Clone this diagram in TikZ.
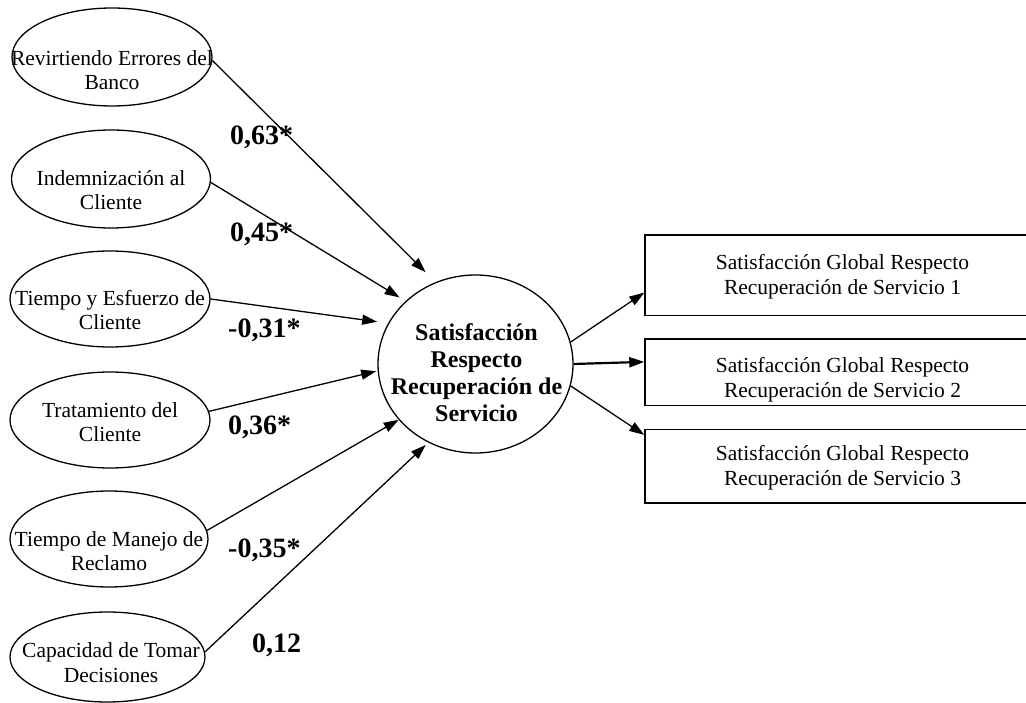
\documentclass[tikz,border=0pt]{standalone}
\usepackage{fontspec}
\setmainfont{Liberation Serif}
\usetikzlibrary{arrows.meta,shapes.geometric}
\begin{document}
\begin{tikzpicture}[x=1pt,y=-1pt,
  lat/.style={draw, ellipse, line width=1.3pt, inner sep=0pt},
  ltxt/.style={align=center, inner sep=0pt, font=\fontsize{21.5}{24.5}\selectfont},
  ctxt/.style={align=center, inner sep=0pt, font=\bfseries\fontsize{24}{27}\selectfont},
  obs/.style={draw, rectangle, line width=1.4pt, inner sep=0pt, minimum width=395pt},
  btxt/.style={align=center, inner sep=0pt, font=\fontsize{21.5}{25}\selectfont},
  coef/.style={anchor=base west, inner sep=0pt, font=\bfseries\fontsize{28}{30}\selectfont},
  arr/.style={line width=1.3pt, -{Triangle[length=15pt,width=10pt]}}]
\useasboundingbox (0,0) rectangle (1026,703);
\fill[white] (0,0) rectangle (1026,703);
\clip (0,0) rectangle (1026,703);

% latent exogenous ellipses
\node[lat, minimum width=200pt, minimum height=98pt] (e1) at (112,57) {};
\node[lat, minimum width=199pt, minimum height=98pt] (e2) at (111,179) {};
\node[lat, minimum width=200pt, minimum height=96pt] (e3) at (110,299) {};
\node[lat, minimum width=200pt, minimum height=96pt] (e4) at (110,420) {};
\node[lat, minimum width=198pt, minimum height=96pt] (e5) at (109,539) {};
\node[lat, minimum width=195pt, minimum height=90pt] (e6) at (107.5,657) {};

\node[ltxt] (t1) at (112,70.3) {Revirtiendo Errores del\\Banco};
\node[ltxt] (t2) at (111,190.3) {Indemnización al\\Cliente};
\node[ltxt] (t3) at (110,309.8) {Tiempo y Esfuerzo de\\Cliente};
\node[ltxt] (t4) at (110,422.3) {Tratamiento del\\Cliente};
\node[ltxt] (t5) at (109,551.3) {Tiempo de Manejo de\\Reclamo};
\node[ltxt] (t6) at (111,662.7) {Capacidad de Tomar\\Decisiones};

% central latent
\node[lat, minimum width=195pt, minimum height=178pt] (sat) at (475.5,364) {};
\node[ctxt] (satt) at (476.5,372.7) {Satisfacción\\Respecto\\Recuperación de\\Servicio};

% indicator boxes
\node[obs, minimum height=80.5pt] (b1) at (842.5,275.25) {};
\node[obs, minimum height=66.5pt] (b2) at (842.5,372.25) {};
\node[obs, minimum height=73.5pt] (b3) at (842.5,466.25) {};
\node[btxt] (bt1) at (842.5,276.5) {Satisfacción Global Respecto\\Recuperación de Servicio 1};
\node[btxt] (bt2) at (842.5,380) {Satisfacción Global Respecto\\Recuperación de Servicio 2};
\node[btxt] (bt3) at (842.5,468.2) {Satisfacción Global Respecto\\Recuperación de Servicio 3};

% paths into the central latent
\draw[arr, shorten >=14pt] (e1.-2) -- (sat.116.6);
\draw[arr, shorten >=7pt] (e2.-2) -- (sat.138.1);
\draw[arr, shorten >=11pt] (e3.east) -- (sat.155.8);
\draw[arr, shorten >=1.5pt] (e4.5) -- (sat.184.5);
\draw[arr] (e5.5) -- (sat.216.6);
\draw[arr, shorten >=3.5pt] (e6.3) -- (sat.239.7);

% paths to indicators
\draw[arr] (sat.13.8) -- (b1.185.1);
\draw[arr, line width=2.2pt] (sat.east) -- (b2.177.9);
\draw[arr] (sat.-13.8) -- (b3.171.0);

% coefficients
\node[coef] (c1) at (230,145) {0,63*};
\node[coef] (c2) at (230,242) {0,45*};
\node[coef] (c3) at (228,338) {-0,31*};
\node[coef] (c4) at (228,435) {0,36*};
\node[coef] (c5) at (228,557) {-0,35*};
\node[coef] (c6) at (252,652) {0,12};
\end{tikzpicture}
\end{document}
